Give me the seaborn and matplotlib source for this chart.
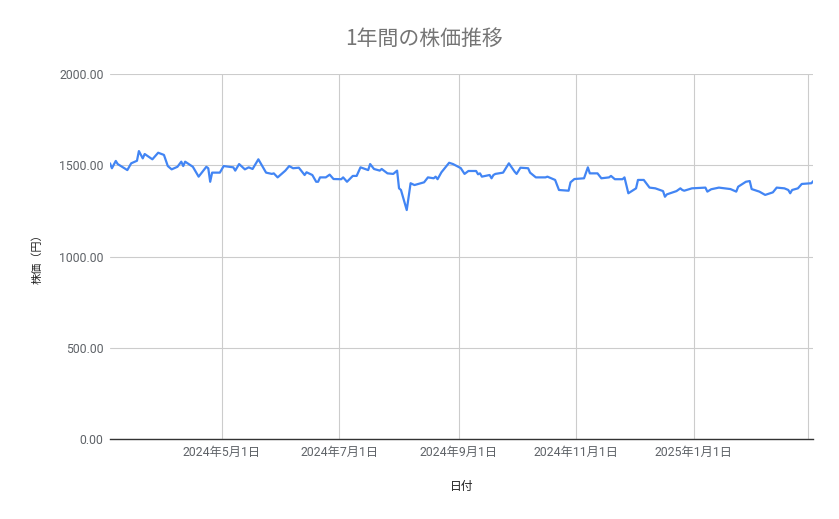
"""
1年間の株価推移 (Google スプレッドシート風の折れ線グラフ)
"""
import pandas as pd
import matplotlib
matplotlib.use("Agg")
import matplotlib.pyplot as plt
import matplotlib.dates as mdates
from matplotlib.ticker import FuncFormatter
import seaborn as sns

# --- data ---
dates = [
    "2024-03-04", "2024-03-05", "2024-03-07", "2024-03-08", "2024-03-13", "2024-03-15",
    "2024-03-18", "2024-03-19", "2024-03-21", "2024-03-22", "2024-03-26", "2024-03-28",
    "2024-03-29", "2024-04-01", "2024-04-03", "2024-04-05", "2024-04-08", "2024-04-10",
    "2024-04-11", "2024-04-12", "2024-04-16", "2024-04-19", "2024-04-23", "2024-04-24",
    "2024-04-25", "2024-04-26", "2024-04-30", "2024-05-02", "2024-05-07", "2024-05-08",
    "2024-05-10", "2024-05-13", "2024-05-15", "2024-05-17", "2024-05-20", "2024-05-24",
    "2024-05-27", "2024-05-28", "2024-05-30", "2024-06-03", "2024-06-05", "2024-06-07",
    "2024-06-10", "2024-06-13", "2024-06-14", "2024-06-17", "2024-06-19", "2024-06-20",
    "2024-06-21", "2024-06-24", "2024-06-26", "2024-06-28", "2024-07-02", "2024-07-03",
    "2024-07-05", "2024-07-08", "2024-07-10", "2024-07-12", "2024-07-16", "2024-07-17",
    "2024-07-19", "2024-07-22", "2024-07-23", "2024-07-26", "2024-07-29", "2024-07-31",
    "2024-08-01", "2024-08-02", "2024-08-05", "2024-08-07", "2024-08-09", "2024-08-14",
    "2024-08-16", "2024-08-19", "2024-08-20", "2024-08-21", "2024-08-23", "2024-08-27",
    "2024-08-29", "2024-09-02", "2024-09-04", "2024-09-06", "2024-09-10", "2024-09-11",
    "2024-09-12", "2024-09-13", "2024-09-17", "2024-09-18", "2024-09-19", "2024-09-20",
    "2024-09-24", "2024-09-27", "2024-09-30", "2024-10-01", "2024-10-03", "2024-10-07",
    "2024-10-08", "2024-10-11", "2024-10-16", "2024-10-17", "2024-10-21", "2024-10-23",
    "2024-10-28", "2024-10-29", "2024-10-31", "2024-11-05", "2024-11-07", "2024-11-08",
    "2024-11-12", "2024-11-14", "2024-11-18", "2024-11-19", "2024-11-21", "2024-11-25",
    "2024-11-26", "2024-11-28", "2024-12-02", "2024-12-03", "2024-12-06", "2024-12-09",
    "2024-12-12", "2024-12-16", "2024-12-17", "2024-12-18", "2024-12-23", "2024-12-25",
    "2024-12-26", "2024-12-27", "2024-12-31", "2025-01-07", "2025-01-08", "2025-01-10",
    "2025-01-14", "2025-01-20", "2025-01-23", "2025-01-24", "2025-01-28", "2025-01-30",
    "2025-01-31", "2025-02-04", "2025-02-07", "2025-02-11", "2025-02-13", "2025-02-17",
    "2025-02-19", "2025-02-20", "2025-02-21", "2025-02-24", "2025-02-26", "2025-03-03",
    "2025-03-04",
]
prices = [
    1511, 1484, 1524, 1507, 1474, 1511,
    1525, 1578, 1538, 1562, 1533, 1557,
    1569, 1557, 1496, 1478, 1492, 1520,
    1496, 1520, 1492, 1438, 1492, 1484,
    1410, 1460, 1460, 1496, 1489, 1471,
    1507, 1478, 1489, 1480, 1533, 1460,
    1453, 1456, 1434, 1471, 1496, 1484,
    1487, 1447, 1462, 1447, 1410, 1410,
    1434, 1434, 1449, 1425, 1424, 1434,
    1410, 1442, 1442, 1489, 1474, 1507,
    1480, 1471, 1480, 1456, 1453, 1471,
    1374, 1365, 1255, 1402, 1392, 1407,
    1434, 1429, 1438, 1424, 1462, 1514,
    1507, 1485, 1453, 1469, 1469, 1451,
    1456, 1438, 1447, 1429, 1447, 1453,
    1460, 1511, 1465, 1453, 1487, 1484,
    1460, 1434, 1434, 1438, 1420, 1365,
    1361, 1407, 1425, 1429, 1489, 1456,
    1456, 1429, 1434, 1442, 1424, 1424,
    1434, 1347, 1374, 1420, 1420, 1378,
    1374, 1359, 1328, 1341, 1359, 1374,
    1365, 1361, 1374, 1378, 1356, 1369,
    1378, 1370, 1356, 1383, 1410, 1414,
    1370, 1356, 1338, 1352, 1378, 1374,
    1365, 1347, 1365, 1374, 1398, 1402,
    1414,
]
y_ticks = [0, 500, 1000, 1500, 2000]

TITLE = "1年間の株価推移"
X_LABEL = "日付"
Y_LABEL = "株価（円）"


def fmt_date(x, pos=None):
    d = mdates.num2date(x)
    return f"{d.year}年{d.month}月{d.day}日"


def main():
    df = pd.DataFrame({"日付": pd.to_datetime(dates), "株価": prices})

    sns.set_theme(style="white")
    plt.rcParams["font.family"] = ["Roboto", "Noto Sans CJK JP", "DejaVu Sans"]

    fig = plt.figure(figsize=(8.39, 5.19), dpi=100)
    ax = fig.add_axes([0.1311, 0.1536, 0.9694 - 0.1311, 0.8574 - 0.1536])

    sns.lineplot(data=df, x="日付", y="株価", ax=ax, color="#4285f4", linewidth=1.6)

    ax.set_xlim(df["日付"].min(), df["日付"].max())
    ax.set_ylim(y_ticks[0], y_ticks[-1])
    ax.set_yticks(y_ticks)
    ax.yaxis.set_major_formatter(FuncFormatter(lambda v, p: f"{v:.2f}"))

    ax.xaxis.set_major_locator(mdates.MonthLocator(bymonth=[1, 3, 5, 7, 9, 11]))
    right = mdates.date2num(df["日付"].max())

    def xfmt(x, pos=None):
        # the label at the right edge is dropped, like in the sheet
        if right - x < 20:
            return ""
        return fmt_date(x)

    ax.xaxis.set_major_formatter(FuncFormatter(xfmt))

    ax.grid(True, color="#cccccc", linewidth=0.8)
    ax.set_axisbelow(True)
    for side in ["left", "right", "top"]:
        ax.spines[side].set_visible(False)
    ax.spines["bottom"].set_color("#333333")
    ax.spines["bottom"].set_linewidth(1.0)
    ax.spines["bottom"].set_zorder(5)

    ax.tick_params(axis="both", length=0, labelsize=8.8, labelcolor="#5f6368")
    ax.tick_params(axis="y", pad=4.5)
    ax.tick_params(axis="x", pad=5)

    ax.set_xlabel(X_LABEL, fontsize=8.5, color="#222222", labelpad=15,
                  family=["Noto Sans CJK JP"])
    ax.set_ylabel(Y_LABEL, fontsize=8, color="#222222", labelpad=12,
                  family=["Noto Sans CJK JP"])

    fig.text(424 / 839, 1 - 39 / 519, TITLE, ha="center", va="center", fontsize=15,
             color="#757575", family=["Noto Sans CJK JP"])

    fig.savefig("out.png", dpi=100)
    plt.close(fig)


if __name__ == "__main__":
    main()
